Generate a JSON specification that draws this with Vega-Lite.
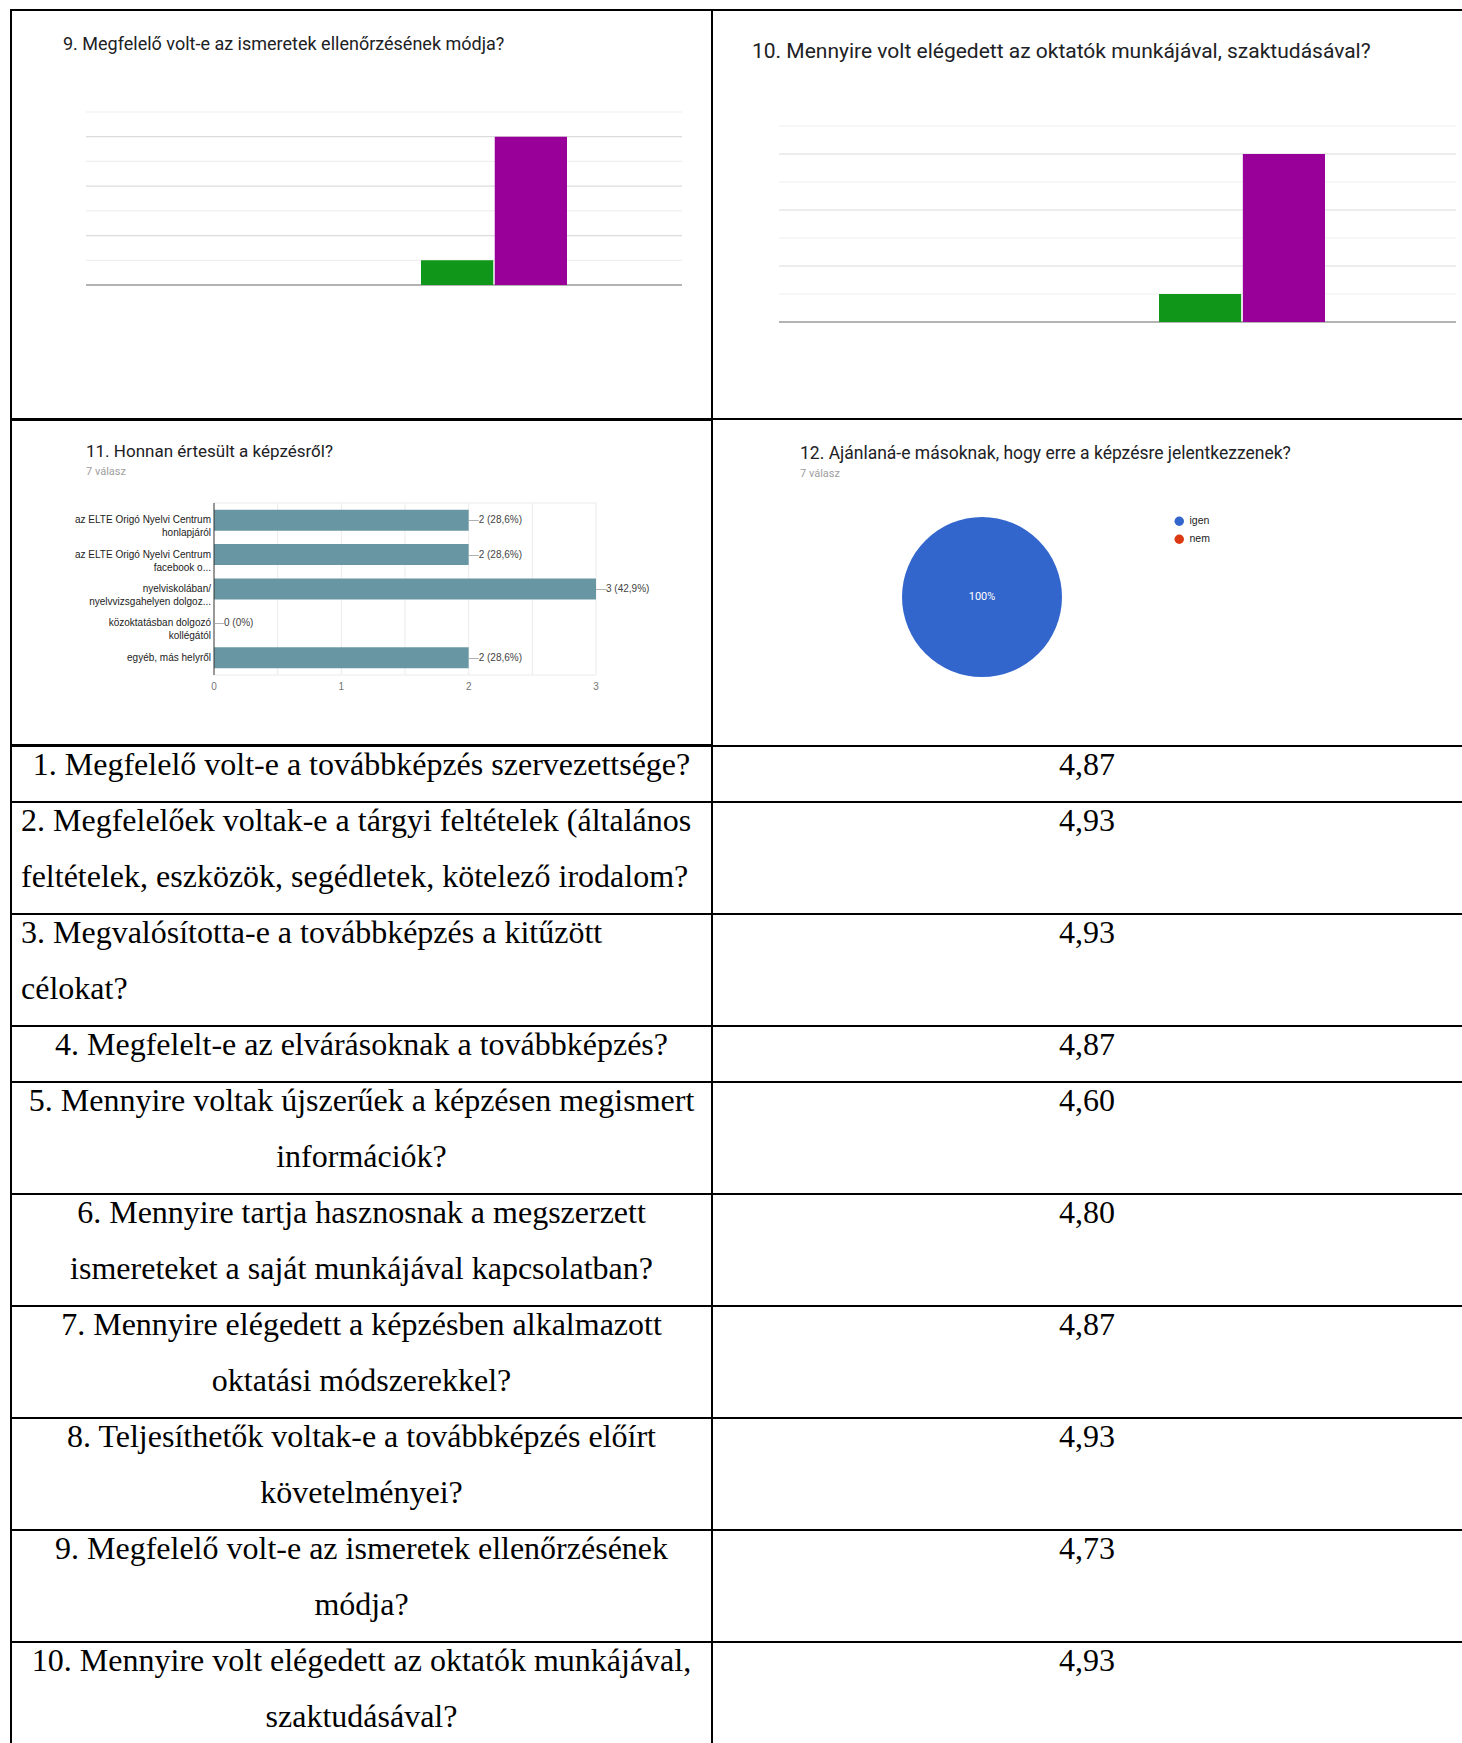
{
  "$schema": "https://vega.github.io/schema/vega-lite/v6.json",
  "background": "white",
  "padding": {"left": 9, "top": 9, "right": 0, "bottom": 0},
  "spacing": -2,
  "config": {
    "view": {"stroke": "#000000", "strokeWidth": 2},
    "locale": {"number": {"decimal": ",", "thousands": " ", "grouping": [3], "currency": ["", ""]}},
    "title": {"font": "Roboto", "fontWeight": "normal", "color": "#202124", "anchor": "start", "frame": "group", "subtitleFont": "Roboto", "subtitleColor": "#9e9e9e", "subtitleFontSize": 11}
  },
  "datasets": {
    "q9": [{"score": "4", "count": 1}, {"score": "5", "count": 6}],
    "q10": [{"score": "4", "count": 1}, {"score": "5", "count": 6}],
    "grid7": [{"v": 0}, {"v": 1}, {"v": 2}, {"v": 3}, {"v": 4}, {"v": 5}, {"v": 6}, {"v": 7}],
    "src": [
      {"cat": "a", "label": ["az ELTE Origó Nyelvi Centrum", "honlapjáról"], "count": 2, "lab": "2 (28,6%)"},
      {"cat": "b", "label": ["az ELTE Origó Nyelvi Centrum", "facebook o..."], "count": 2, "lab": "2 (28,6%)"},
      {"cat": "c", "label": ["nyelviskolában/", "nyelvvizsgahelyen dolgoz..."], "count": 3, "lab": "3 (42,9%)"},
      {"cat": "d", "label": ["közoktatásban dolgozó", "kollégától"], "count": 0, "lab": "0 (0%)"},
      {"cat": "e", "label": ["egyéb, más helyről"], "count": 2, "lab": "2 (28,6%)"}
    ],
    "grid3": [{"t": 0.5}, {"t": 1}, {"t": 1.5}, {"t": 2}, {"t": 2.5}, {"t": 3}],
    "ticks3": [{"t": 0}, {"t": 1}, {"t": 2}, {"t": 3}],
    "frame3": [{"f": 0}, {"f": 1}],
    "pie": [{"answer": "igen", "count": 7, "pct": "100%"}, {"answer": "nem", "count": 0, "pct": "0%"}],
    "bounds": [{"b": 1}, {"b": 3}, {"b": 5}, {"b": 6}, {"b": 8}, {"b": 10}, {"b": 12}, {"b": 14}, {"b": 16}],
    "lines": [
      {"q": 1, "line": 0, "text": "1. Megfelelő volt-e a továbbképzés szervezettsége?"},
      {"q": 2, "line": 1, "text": "2. Megfelelőek voltak-e a tárgyi feltételek (általános"},
      {"q": 2, "line": 2, "text": "feltételek, eszközök, segédletek, kötelező irodalom?"},
      {"q": 3, "line": 3, "text": "3. Megvalósította-e a továbbképzés a kitűzött"},
      {"q": 3, "line": 4, "text": "célokat?"},
      {"q": 4, "line": 5, "text": "4. Megfelelt-e az elvárásoknak a továbbképzés?"},
      {"q": 5, "line": 6, "text": "5. Mennyire voltak újszerűek a képzésen megismert"},
      {"q": 5, "line": 7, "text": "információk?"},
      {"q": 6, "line": 8, "text": "6. Mennyire tartja hasznosnak a megszerzett"},
      {"q": 6, "line": 9, "text": "ismereteket a saját munkájával kapcsolatban?"},
      {"q": 7, "line": 10, "text": "7. Mennyire elégedett a képzésben alkalmazott"},
      {"q": 7, "line": 11, "text": "oktatási módszerekkel?"},
      {"q": 8, "line": 12, "text": "8. Teljesíthetők voltak-e a továbbképzés előírt"},
      {"q": 8, "line": 13, "text": "követelményei?"},
      {"q": 9, "line": 14, "text": "9. Megfelelő volt-e az ismeretek ellenőrzésének"},
      {"q": 9, "line": 15, "text": "módja?"},
      {"q": 10, "line": 16, "text": "10. Mennyire volt elégedett az oktatók munkájával,"},
      {"q": 10, "line": 17, "text": "szaktudásával?"}
    ],
    "avgs": [
      {"q": 1, "line": 0, "avg": 4.87},
      {"q": 2, "line": 1, "avg": 4.93},
      {"q": 3, "line": 3, "avg": 4.93},
      {"q": 4, "line": 5, "avg": 4.87},
      {"q": 5, "line": 6, "avg": 4.60},
      {"q": 6, "line": 8, "avg": 4.80},
      {"q": 7, "line": 10, "avg": 4.87},
      {"q": 8, "line": 12, "avg": 4.93},
      {"q": 9, "line": 14, "avg": 4.73},
      {"q": 10, "line": 16, "avg": 4.93}
    ]
  },
  "resolve": {"scale": {"color": "independent"}},
  "vconcat": [
    {
      "spacing": 0,
      "bounds": "flush",
      "resolve": {"scale": {"color": "independent"}},
      "hconcat": [
        {
          "width": 701,
          "height": 409,
          "title": {"text": "9. Megfelelő volt-e az ismeretek ellenőrzésének módja?", "fontSize": 18, "offset": -44, "dx": 52},
          "resolve": {"scale": {"x": "independent"}},
          "layer": [
            {
              "data": {"name": "grid7"},
              "mark": {"type": "rule"},
              "encoding": {
                "y": {"field": "v", "type": "quantitative", "scale": {"domain": [0, 7], "range": [275, 102]}, "axis": null},
                "x": {"datum": 0, "type": "quantitative", "scale": {"domain": [0, 1], "range": [75, 671]}, "axis": null},
                "x2": {"datum": 1},
                "color": {"condition": [{"test": "datum.v === 0", "value": "#9a9a9a"}, {"test": "datum.v % 2 === 0", "value": "#dcdcdc"}], "value": "#efefef"},
                "strokeWidth": {"condition": {"test": "datum.v === 0", "value": 1.5}, "value": 1.2}
              }
            },
            {
              "data": {"name": "q9"},
              "mark": {"type": "bar"},
              "encoding": {
                "x": {"field": "score", "type": "nominal", "scale": {"domain": ["4", "5"], "range": [410, 556], "paddingInner": 0.02, "paddingOuter": 0}, "axis": null},
                "y": {"field": "count", "type": "quantitative", "scale": {"domain": [0, 7], "range": [275, 102]}, "axis": null},
                "color": {"field": "score", "type": "nominal", "scale": {"domain": ["4", "5"], "range": ["#109618", "#990099"]}, "legend": null}
              }
            }
          ]
        },
        {
          "width": 752,
          "height": 409,
          "title": {"text": "10. Mennyire volt elégedett az oktatók munkájával, szaktudásával?", "fontSize": 21, "offset": -52, "dx": 40},
          "resolve": {"scale": {"x": "independent"}},
          "layer": [
            {
              "data": {"name": "grid7"},
              "mark": {"type": "rule"},
              "encoding": {
                "y": {"field": "v", "type": "quantitative", "scale": {"domain": [0, 7], "range": [312, 116]}, "axis": null},
                "x": {"datum": 0, "type": "quantitative", "scale": {"domain": [0, 1], "range": [67, 744]}, "axis": null},
                "x2": {"datum": 1},
                "color": {"condition": [{"test": "datum.v === 0", "value": "#9a9a9a"}, {"test": "datum.v % 2 === 0", "value": "#dcdcdc"}], "value": "#efefef"},
                "strokeWidth": {"condition": {"test": "datum.v === 0", "value": 1.5}, "value": 1.2}
              }
            },
            {
              "data": {"name": "q10"},
              "mark": {"type": "bar"},
              "encoding": {
                "x": {"field": "score", "type": "nominal", "scale": {"domain": ["4", "5"], "range": [447, 613], "paddingInner": 0.02, "paddingOuter": 0}, "axis": null},
                "y": {"field": "count", "type": "quantitative", "scale": {"domain": [0, 7], "range": [312, 116]}, "axis": null},
                "color": {"field": "score", "type": "nominal", "scale": {"domain": ["4", "5"], "range": ["#109618", "#990099"]}, "legend": null}
              }
            }
          ]
        }
      ]
    },
    {
      "spacing": 0,
      "bounds": "flush",
      "resolve": {"scale": {"color": "independent"}},
      "hconcat": [
        {
          "width": 701,
          "height": 325,
          "title": {"text": "11. Honnan értesült a képzésről?", "subtitle": "7 válasz", "fontSize": 17, "subtitlePadding": 5, "offset": -58, "dx": 75},
          "resolve": {"scale": {"y": "independent"}},
          "layer": [
            {
              "data": {"name": "grid3"},
              "mark": {"type": "rule", "color": "#ebebeb"},
              "encoding": {
                "x": {"field": "t", "type": "quantitative", "scale": {"domain": [0, 3], "range": [203, 585]}, "axis": null},
                "y": {"datum": 0, "type": "quantitative", "scale": {"domain": [0, 1], "range": [83, 255]}, "axis": null},
                "y2": {"datum": 1}
              }
            },
            {
              "data": {"name": "frame3"},
              "mark": {"type": "rule", "color": "#ebebeb"},
              "encoding": {
                "y": {"field": "f", "type": "quantitative", "scale": {"domain": [0, 1], "range": [83, 255]}, "axis": null},
                "x": {"datum": 0, "type": "quantitative", "scale": {"domain": [0, 3], "range": [203, 585]}, "axis": null},
                "x2": {"datum": 3}
              }
            },
            {
              "data": {"name": "src"},
              "mark": {"type": "bar", "color": "#6897a3"},
              "encoding": {
                "y": {"field": "cat", "type": "nominal", "scale": {"domain": ["a", "b", "c", "d", "e"], "range": [83, 255], "paddingInner": 0.39, "paddingOuter": 0.195}, "axis": null},
                "x": {"field": "count", "type": "quantitative", "scale": {"domain": [0, 3], "range": [203, 585]}, "axis": null}
              }
            },
            {
              "data": {"name": "frame3"},
              "transform": [{"filter": "datum.f === 0"}],
              "mark": {"type": "rule", "color": "#333333"},
              "encoding": {
                "x": {"datum": 0, "type": "quantitative", "scale": {"domain": [0, 3], "range": [203, 585]}, "axis": null},
                "y": {"datum": 0, "type": "quantitative", "scale": {"domain": [0, 1], "range": [83, 255]}, "axis": null},
                "y2": {"datum": 1}
              }
            },
            {
              "data": {"name": "src"},
              "mark": {"type": "text", "align": "right", "baseline": "middle", "dx": -3, "font": "Liberation Sans", "fontSize": 10, "lineHeight": 13, "color": "#222222"},
              "encoding": {
                "y": {"field": "cat", "type": "nominal", "scale": {"domain": ["a", "b", "c", "d", "e"], "range": [83, 255], "paddingInner": 0.39, "paddingOuter": 0.195}, "axis": null},
                "x": {"datum": 0, "type": "quantitative", "scale": {"domain": [0, 3], "range": [203, 585]}, "axis": null},
                "text": {"field": "label"}
              }
            },
            {
              "data": {"name": "src"},
              "mark": {"type": "text", "align": "left", "baseline": "middle", "dx": 0, "font": "Liberation Sans", "fontSize": 10, "color": "#9e9e9e", "text": "—"},
              "encoding": {
                "y": {"field": "cat", "type": "nominal", "scale": {"domain": ["a", "b", "c", "d", "e"], "range": [83, 255], "paddingInner": 0.39, "paddingOuter": 0.195}, "axis": null},
                "x": {"field": "count", "type": "quantitative", "scale": {"domain": [0, 3], "range": [203, 585]}, "axis": null}
              }
            },
            {
              "data": {"name": "src"},
              "mark": {"type": "text", "align": "left", "baseline": "middle", "dx": 10, "font": "Liberation Sans", "fontSize": 10, "color": "#444444"},
              "encoding": {
                "y": {"field": "cat", "type": "nominal", "scale": {"domain": ["a", "b", "c", "d", "e"], "range": [83, 255], "paddingInner": 0.39, "paddingOuter": 0.195}, "axis": null},
                "x": {"field": "count", "type": "quantitative", "scale": {"domain": [0, 3], "range": [203, 585]}, "axis": null},
                "text": {"field": "lab"}
              }
            },
            {
              "data": {"name": "ticks3"},
              "mark": {"type": "text", "align": "center", "baseline": "middle", "dy": 12, "font": "Liberation Sans", "fontSize": 10, "color": "#757575"},
              "encoding": {
                "x": {"field": "t", "type": "quantitative", "scale": {"domain": [0, 3], "range": [203, 585]}, "axis": null},
                "y": {"datum": 1, "type": "quantitative", "scale": {"domain": [0, 1], "range": [83, 255]}, "axis": null},
                "text": {"field": "t", "type": "quantitative"}
              }
            }
          ]
        },
        {
          "width": 752,
          "height": 325,
          "title": {"text": "12. Ajánlaná-e másoknak, hogy erre a képzésre jelentkezzenek?", "subtitle": "7 válasz", "fontSize": 17.5, "subtitlePadding": 6, "offset": -59, "dx": 88},
          "data": {"name": "pie"},
          "layer": [
            {
              "mark": {"type": "arc", "outerRadius": 80, "x": 270, "y": 177},
              "encoding": {
                "theta": {"field": "count", "type": "quantitative"},
                "color": {
                  "field": "answer",
                  "type": "nominal",
                  "scale": {"domain": ["igen", "nem"], "range": ["#3366cc", "#dc3912"]},
                  "legend": {"orient": "none", "legendX": 462, "legendY": 96, "title": null, "symbolType": "circle", "symbolSize": 90, "symbolStrokeWidth": 0, "labelFont": "Liberation Sans", "labelFontSize": 10.5, "labelColor": "#222222", "labelOffset": 5, "rowPadding": 7, "padding": 0}
                }
              }
            },
            {
              "transform": [{"filter": "datum.count > 0"}],
              "mark": {"type": "text", "x": 270, "y": 177, "align": "center", "baseline": "middle", "color": "white", "font": "Roboto", "fontSize": 11},
              "encoding": {"text": {"field": "pct"}}
            }
          ]
        }
      ]
    },
    {
      "spacing": 0,
      "bounds": "flush",
      "hconcat": [
        {
          "width": 701,
          "height": 1001,
          "layer": [
            {
              "data": {"name": "bounds"},
              "mark": {"type": "rule", "color": "#000000", "strokeWidth": 2},
              "encoding": {
                "y": {"field": "b", "type": "quantitative", "scale": {"domain": [0, 17.875], "reverse": true, "nice": false, "zero": false}, "axis": null}
              }
            },
            {
              "data": {"name": "lines"},
              "transform": [{"filter": "datum.q !== 2 && datum.q !== 3"}],
              "mark": {"type": "text", "align": "center", "baseline": "middle", "dy": 18.5, "font": "Liberation Serif", "fontSize": 32, "color": "#000000"},
              "encoding": {
                "y": {"field": "line", "type": "quantitative", "scale": {"domain": [0, 17.875], "reverse": true, "nice": false, "zero": false}, "axis": null},
                "text": {"field": "text"}
              }
            },
            {
              "data": {"name": "lines"},
              "transform": [{"filter": "datum.q === 2 || datum.q === 3"}],
              "mark": {"type": "text", "align": "left", "baseline": "middle", "dy": 18.5, "dx": 10, "font": "Liberation Serif", "fontSize": 32, "color": "#000000"},
              "encoding": {
                "y": {"field": "line", "type": "quantitative", "scale": {"domain": [0, 17.875], "reverse": true, "nice": false, "zero": false}, "axis": null},
                "x": {"datum": 0, "type": "quantitative", "scale": {"domain": [0, 1]}, "axis": null},
                "text": {"field": "text"}
              }
            }
          ]
        },
        {
          "width": 752,
          "height": 1001,
          "layer": [
            {
              "data": {"name": "bounds"},
              "mark": {"type": "rule", "color": "#000000", "strokeWidth": 2},
              "encoding": {
                "y": {"field": "b", "type": "quantitative", "scale": {"domain": [0, 17.875], "reverse": true, "nice": false, "zero": false}, "axis": null}
              }
            },
            {
              "data": {"name": "avgs"},
              "mark": {"type": "text", "align": "center", "baseline": "middle", "dy": 18.5, "dx": -1, "font": "Liberation Serif", "fontSize": 32, "color": "#000000"},
              "encoding": {
                "y": {"field": "line", "type": "quantitative", "scale": {"domain": [0, 17.875], "reverse": true, "nice": false, "zero": false}, "axis": null},
                "text": {"field": "avg", "type": "quantitative", "format": ".2f"}
              }
            }
          ]
        }
      ]
    }
  ]
}
